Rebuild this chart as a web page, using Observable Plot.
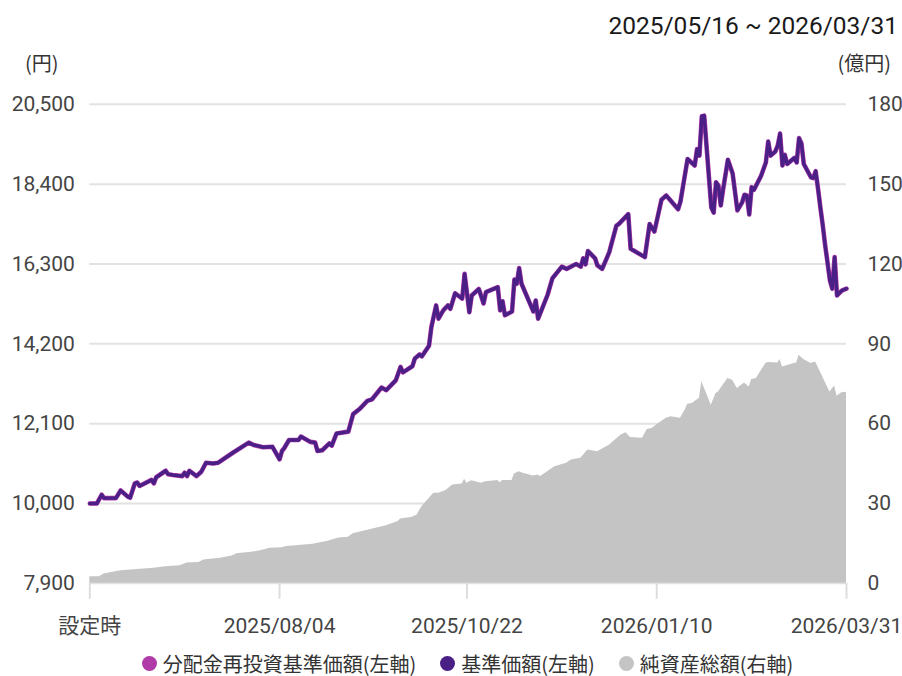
<!DOCTYPE html>
<html><head><meta charset="utf-8">
<script src="https://cdn.jsdelivr.net/npm/d3@7"></script>
<script src="https://cdn.jsdelivr.net/npm/@observablehq/plot@0.6"></script>
<style>
body{margin:0;background:#fff;font-family:Roboto,"Noto Sans CJK JP",sans-serif;}
#wrap{position:relative;width:902px;height:676px;overflow:hidden;}
#title{position:absolute;right:4px;top:0;height:52px;line-height:52px;font-size:24.5px;color:#1a1a1a;font-family:Roboto,sans-serif;z-index:2;}
.unit{position:absolute;top:51px;height:24px;line-height:24px;font-family:"Noto Sans CJK JP",sans-serif;font-size:20px;color:#333;z-index:2;}
#chart{position:absolute;top:50px;left:0;z-index:1;}
#legend{position:absolute;top:650px;left:89px;right:56px;height:26px;display:flex;justify-content:center;align-items:center;gap:24px;font-family:"Noto Sans CJK JP",sans-serif;font-size:20px;color:#333;z-index:2;}
#legend .item{display:flex;align-items:center;white-space:nowrap;}
#legend .dot{width:15px;height:15px;border-radius:50%;margin-right:6px;display:inline-block;}
</style></head>
<body>
<div id="wrap">
  <div id="chart"></div>
  <div id="title">2025/05/16 ~ 2026/03/31</div>
  <div class="unit" style="left:25px">(円)</div>
  <div class="unit" style="right:11px">(億円)</div>
  <div id="legend"></div>
</div>
<script>
// 基準価額 (円)
const navDates = [
"2025-05-16","2025-05-19","2025-05-21","2025-05-22","2025-05-27","2025-05-29","2025-06-01","2025-06-02","2025-06-04","2025-06-05",
"2025-06-06","2025-06-11","2025-06-12","2025-06-13","2025-06-17","2025-06-18","2025-06-20","2025-06-24","2025-06-25","2025-06-26",
"2025-06-27","2025-06-30","2025-07-02","2025-07-04","2025-07-07","2025-07-09","2025-07-15","2025-07-22","2025-07-24","2025-07-28",
"2025-08-01","2025-08-04","2025-08-05","2025-08-06","2025-08-08","2025-08-12","2025-08-13","2025-08-17","2025-08-19","2025-08-20",
"2025-08-22","2025-08-25","2025-08-26","2025-08-28","2025-09-02","2025-09-04","2025-09-07","2025-09-10","2025-09-12","2025-09-16",
"2025-09-18","2025-09-22","2025-09-24","2025-09-25","2025-09-29","2025-09-30","2025-10-02","2025-10-03","2025-10-06","2025-10-07",
"2025-10-09","2025-10-10","2025-10-12","2025-10-14","2025-10-15","2025-10-17","2025-10-20","2025-10-21","2025-10-23","2025-10-24",
"2025-10-27","2025-10-29","2025-10-30","2025-11-04","2025-11-05","2025-11-06","2025-11-07","2025-11-10","2025-11-11","2025-11-12",
"2025-11-13","2025-11-14","2025-11-17","2025-11-19","2025-11-20","2025-11-21","2025-11-25","2025-11-27","2025-12-01","2025-12-03",
"2025-12-07","2025-12-09","2025-12-10","2025-12-11","2025-12-12","2025-12-15","2025-12-16","2025-12-18","2025-12-21","2025-12-22",
"2025-12-24","2025-12-25","2025-12-29","2025-12-30","2026-01-05","2026-01-07","2026-01-09","2026-01-12","2026-01-14","2026-01-15",
"2026-01-19","2026-01-20","2026-01-23","2026-01-26","2026-01-27","2026-01-28","2026-01-29","2026-01-30","2026-02-02","2026-02-03",
"2026-02-04","2026-02-05","2026-02-06","2026-02-07","2026-02-09","2026-02-11","2026-02-13","2026-02-15","2026-02-16","2026-02-17",
"2026-02-18","2026-02-19","2026-02-20","2026-02-23","2026-02-25","2026-02-26","2026-02-27","2026-03-01","2026-03-02","2026-03-03",
"2026-03-04","2026-03-05","2026-03-06","2026-03-09","2026-03-10","2026-03-11","2026-03-12","2026-03-13","2026-03-16","2026-03-17",
"2026-03-18","2026-03-19","2026-03-20","2026-03-21","2026-03-22","2026-03-23","2026-03-24","2026-03-25","2026-03-26","2026-03-27",
"2026-03-29","2026-03-31"];
const nav = [
10000,10000,10230,10140,10140,10340,10180,10150,10530,10550,
10460,10620,10530,10690,10860,10770,10750,10720,10810,10720,
10860,10720,10835,11070,11050,11070,11320,11600,11540,11480,
11490,11160,11380,11460,11670,11670,11760,11620,11600,11380,
11400,11580,11520,11840,11890,12350,12500,12700,12740,13050,
12980,13240,13590,13450,13610,13810,13920,13870,14150,14640,
15210,14860,15080,15210,15120,15530,15390,16040,15030,15470,
15640,15260,15560,15690,15080,15320,14950,15050,15890,15780,
16190,15780,15340,15050,15340,14860,15490,15920,16230,16170,
16300,16230,16450,16290,16640,16450,16260,16170,16610,16850,
17310,17350,17610,16700,16480,17350,17150,17990,18100,18030,
17740,17940,19060,18890,19320,19150,20185,20200,17790,17650,
18450,18360,17840,18270,19040,18680,17710,17920,18120,18100,
17600,18320,18250,18620,18970,19520,19150,19260,19410,19730,
18890,19170,18930,19090,18970,19610,19470,18930,18580,18560,
18740,18280,17780,17310,16790,16340,15870,15650,16480,15470,
15600,15650];
// 分配金再投資基準価額 (円) — no distributions, identical to 基準価額
const reinvested = nav.slice();

// 純資産総額 (億円)
const assetDates = [
"2025-05-16","2025-05-20","2025-05-22","2025-05-29","2025-06-05","2025-06-12","2025-06-17","2025-06-23","2025-06-26","2025-07-01",
"2025-07-03","2025-07-10","2025-07-15","2025-07-17","2025-07-24","2025-07-27","2025-07-31","2025-08-05","2025-08-07","2025-08-12",
"2025-08-18","2025-08-24","2025-08-29","2025-09-02","2025-09-04","2025-09-11","2025-09-18","2025-09-23","2025-09-24","2025-09-29",
"2025-10-01","2025-10-03","2025-10-08","2025-10-10","2025-10-13","2025-10-16","2025-10-20","2025-10-21","2025-10-22","2025-10-24",
"2025-10-28","2025-10-30","2025-11-04","2025-11-05","2025-11-06","2025-11-10","2025-11-11","2025-11-13","2025-11-15","2025-11-19",
"2025-11-21","2025-11-22","2025-11-25","2025-11-28","2025-12-03","2025-12-05","2025-12-09","2025-12-12","2025-12-16","2025-12-21",
"2025-12-26","2025-12-28","2025-12-30","2026-01-04","2026-01-06","2026-01-08","2026-01-11","2026-01-14","2026-01-16","2026-01-20",
"2026-01-22","2026-01-23","2026-01-25","2026-01-28","2026-01-29","2026-02-02","2026-02-04","2026-02-05","2026-02-09","2026-02-11",
"2026-02-13","2026-02-16","2026-02-18","2026-02-19","2026-02-21","2026-02-25","2026-02-26","2026-03-02","2026-03-03","2026-03-04",
"2026-03-09","2026-03-10","2026-03-11","2026-03-13","2026-03-16","2026-03-18","2026-03-24","2026-03-26","2026-03-27","2026-03-29",
"2026-03-31"];
const assets = [
2.5,2.5,3.5,4.7,5.2,5.7,6.2,6.6,7.6,7.8,
8.8,9.4,10.3,11.1,11.8,12.2,13.2,13.4,13.8,14.2,
14.7,15.7,17.0,17.3,18.6,20.1,21.6,23.2,24.2,24.8,
25.7,28.8,33.8,33.8,34.8,36.9,37.3,39.1,37.6,38.5,
37.6,38.2,38.6,37.8,38.6,38.6,41.1,41.9,41.3,40.3,
40.7,40.1,41.9,43.8,45.1,46.3,47.0,50.1,49.4,51.9,
55.7,56.6,54.8,54.5,57.8,58.2,60.1,62.0,62.6,62.0,
65.1,67.3,67.6,69.5,75.7,66.9,71.3,71.9,77.0,76.3,
73.2,75.3,73.8,76.6,77.0,82.6,83.0,82.8,84.1,81.3,
82.6,82.8,85.7,84.1,82.6,83.2,71.9,74.1,70.3,71.6,
71.8];

const leftTicks = [7900, 10000, 12100, 14200, 16300, 18400, 20500];
const rightTicks = [0, 30, 60, 90, 120, 150, 180];
const xTicks = ["2025-05-16", "2025-08-04", "2025-10-22", "2026-01-10", "2026-03-31"];
const xTickLabels = ["設定時", "2025/08/04", "2025/10/22", "2026/01/10", "2026/03/31"];
const seriesNames = ["分配金再投資基準価額(左軸)", "基準価額(左軸)", "純資産総額(右軸)"];
const seriesColors = ["#b03aa8", "#4a1f86", "#c4c4c4"];

const yMin = leftTicks[0], yMax = leftTicks[leftTicks.length - 1];
const rMax = rightTicks[rightTicks.length - 1];
const toLeft = r => yMin + r * (yMax - yMin) / rMax;
const fromLeft = v => Math.round((v - yMin) * rMax / (yMax - yMin));

const navData = navDates.map((d, i) => ({date: new Date(d), nav: nav[i], re: reinvested[i]}));
const assetData = assetDates.map((d, i) => ({date: new Date(d), v: assets[i]}));
const fmtKey = d3.utcFormat("%Y-%m-%d");
const fmtNum = d3.format(",");

const chart = Plot.plot({
  width: 902, height: 600,
  marginLeft: 89.3, marginRight: 56, marginTop: 53.8, marginBottom: 67.2,
  style: {fontFamily: "Roboto, 'Noto Sans CJK JP', sans-serif", fontSize: "21px", background: "transparent", overflow: "visible"},
  x: {type: "utc", domain: [new Date(xTicks[0]), new Date(xTicks[xTicks.length - 1])]},
  y: {domain: [yMin, yMax]},
  marks: [
    Plot.gridY(leftTicks, {stroke: "#e2e2e2", strokeOpacity: 1, strokeWidth: 2}),
    Plot.areaY(assetData, {x: "date", y1: yMin, y2: d => toLeft(d.v), fill: seriesColors[2]}),
    Plot.lineY(navData, {x: "date", y: "re", stroke: seriesColors[0], strokeWidth: 4.6}),
    Plot.lineY(navData, {x: "date", y: "nav", stroke: seriesColors[1], strokeWidth: 3.4}),
    Plot.axisY(leftTicks, {anchor: "left", tickSize: 0, tickPadding: 15, tickFormat: d => fmtNum(d), fill: "#444", label: null}),
    Plot.axisY(rightTicks.map(toLeft), {anchor: "right", tickSize: 0, tickPadding: 21, tickFormat: d => String(fromLeft(d)), fill: "#444", label: null}),
    Plot.axisX(xTicks.map(d => new Date(d)), {tickSize: 16, tickPadding: 19, stroke: "#dddddd", strokeWidth: 2, strokeOpacity: 1, fill: "#444",
      tickFormat: d => xTickLabels[xTicks.indexOf(fmtKey(d))], label: null})
  ]
});
document.getElementById("chart").appendChild(chart);

const legend = document.getElementById("legend");
seriesNames.forEach((name, i) => {
  const item = document.createElement("span");
  item.className = "item";
  const dot = document.createElement("span");
  dot.className = "dot";
  dot.style.background = seriesColors[i];
  item.appendChild(dot);
  item.appendChild(document.createTextNode(name));
  legend.appendChild(item);
});
</script>
</body></html>
